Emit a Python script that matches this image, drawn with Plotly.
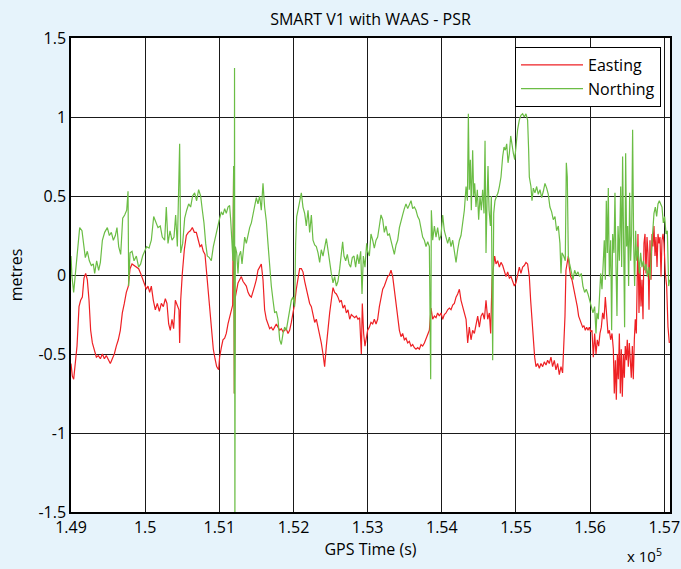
import plotly.graph_objects as go

# ---- Easting (red) ----
easting_t = [149000,149018,149036,149058,149081,149108,149130,149153,149175,149198,149220,149243,149265,149288,149315,149342,149369,149396,149423,149450,149476,149503,149530,149557,149584,149611,149638,149665,149692,149719,149746,149773,149796,149823,149850,149881,149912,149939,149966,149993,150016,150038,150061,150083,150110,150137,150164,150191,150218,150245,150272,150294,150317,150339,150362,150384,150407,150434,150456,150465,150479,150501,150528,150555,150582,150609,150636,150663,150690,150717,150739,150762,150784,150807,150829,150852,150874,150897,150919,150942,150964,150991,
             151004,151027,151049,151072,151094,151117,151139,151162,151180,151193,151202,151216,151234,151252,151274,151297,151319,151342,151364,151387,151409,151432,151454,151476,151499,151521,151544,151566,151589,151611,151634,151656,151679,151701,151724,151746,151769,151791,151814,151836,151859,151881,151903,151926,151948,151971,151993,152016,152038,152061,152083,152106,152128,152151,152173,152196,152218,152241,152263,152286,152308,152331,152353,152375,152398,152420,152443,152465,152488,152510,152533,152555,152578,152600,152623,152645,152668,152690,152713,152735,152758,152780,152803,152825,152847,152870,152892,152915,152928,152946,152964,152987,
             153000,153023,153045,153068,153090,153113,153135,153158,153180,153203,153225,153248,153270,153293,153315,153338,153360,153383,153405,153428,153450,153472,153495,153517,153540,153562,153585,153607,153630,153652,153675,153697,153720,153742,153765,153787,153810,153832,153855,153877,153900,153922,153944,153967,153989,154012,154034,154057,154079,154102,154124,154147,154169,154192,154214,154237,154259,154282,154304,154327,154349,154371,154394,154416,154439,154461,154484,154506,154529,154551,154574,154596,154619,154641,154659,154677,154695,154713,154731,154753,154776,154798,154821,154843,154866,154888,154911,154933,154956,154978,
             155000,155022,155045,155067,155090,155112,155135,155157,155180,155198,155216,155234,155252,155270,155292,155315,155337,155360,155382,155405,155427,155449,155472,155494,155517,155539,155562,155584,155607,155629,155647,155661,155674,155688,155706,155719,155737,155755,155773,155791,155809,155827,155845,155863,155881,155899,155917,155935,155953,155971,155989,156007,156025,156043,156061,156079,156097,156115,156133,156151,156169,156187,156205,156223,156241,156259,156277,156295,156313,156326,156340,156353,156367,156380,156394,156407,156420,156434,156448,156461,156474,156488,156501,156515,156528,156542,156555,156569,156582,156596,156609,156623,156636,156645,156659,156672,156686,156699,156713,156726,156740,156753,156767,156780,156794,156807,156821,156834,156848,156861,156875,156888,156902,156915,156929,156942,156956,156969,156983,156996,157014,157032,157050,157068]
easting_m = [-0.56,-0.64,-0.66,-0.57,-0.45,-0.20,-0.16,-0.14,-0.02,0.01,-0.03,-0.16,-0.35,-0.43,-0.47,-0.52,-0.51,-0.53,-0.50,-0.53,-0.51,-0.54,-0.56,-0.53,-0.50,-0.45,-0.41,-0.35,-0.24,-0.18,-0.11,-0.07,0.04,0.07,0.06,0.05,0.04,0.01,-0.02,-0.06,-0.09,-0.07,-0.11,-0.07,-0.16,-0.22,-0.18,-0.23,-0.18,-0.20,-0.15,-0.18,-0.31,-0.35,-0.28,-0.34,-0.16,-0.20,-0.22,-0.43,-0.16,0.01,0.16,0.25,0.27,0.28,0.30,0.27,0.27,0.22,0.18,0.19,0.15,0.13,0.01,-0.12,-0.26,-0.37,-0.47,-0.53,-0.58,-0.60,
             -0.52,-0.46,-0.41,-0.40,-0.37,-0.31,-0.26,-0.22,-0.19,0.69,-0.75,-0.14,-0.08,-0.05,-0.03,-0.01,-0.04,-0.06,-0.07,-0.11,-0.13,-0.14,-0.11,-0.07,-0.03,0.03,0.05,0.07,-0.03,-0.22,-0.28,-0.31,-0.34,-0.33,-0.35,-0.33,-0.31,-0.33,-0.35,-0.34,-0.36,-0.35,-0.34,-0.37,-0.35,-0.30,-0.24,-0.18,-0.09,-0.01,0.04,0.04,0.02,-0.04,-0.09,-0.14,-0.18,-0.20,-0.26,-0.30,-0.28,-0.33,-0.37,-0.43,-0.50,-0.58,-0.45,-0.33,-0.24,-0.16,-0.08,-0.11,-0.12,-0.14,-0.17,-0.16,-0.21,-0.19,-0.24,-0.22,-0.28,-0.25,-0.26,-0.27,-0.26,-0.28,-0.27,-0.50,-0.18,-0.37,-0.45,-0.37,
             -0.35,-0.33,-0.30,-0.31,-0.28,-0.31,-0.28,-0.20,-0.14,-0.09,-0.07,-0.04,-0.01,0.00,0.03,-0.01,-0.09,-0.20,-0.26,-0.35,-0.39,-0.37,-0.41,-0.40,-0.43,-0.42,-0.45,-0.44,-0.46,-0.47,-0.46,-0.47,-0.44,-0.45,-0.43,-0.40,-0.37,-0.35,-0.21,-0.28,-0.26,-0.27,-0.24,-0.26,-0.24,-0.28,-0.25,-0.24,-0.22,-0.21,-0.22,-0.19,-0.18,-0.14,-0.12,-0.09,-0.16,-0.20,-0.24,-0.28,-0.43,-0.33,-0.41,-0.35,-0.37,-0.31,-0.26,-0.33,-0.26,-0.24,-0.28,-0.16,-0.28,-0.24,-0.37,-0.03,0.07,0.12,0.07,0.09,0.05,0.08,0.06,0.03,-0.01,0.02,-0.02,-0.01,-0.04,-0.07,
             -0.05,0.01,0.05,0.01,0.05,0.06,0.08,0.07,-0.01,-0.16,-0.28,-0.41,-0.52,-0.58,-0.56,-0.59,-0.56,-0.58,-0.55,-0.57,-0.54,-0.56,-0.52,-0.58,-0.54,-0.60,-0.56,-0.63,-0.58,-0.62,-0.45,-0.26,0.03,0.07,0.12,0.05,-0.01,-0.03,-0.07,-0.12,-0.16,-0.20,-0.26,-0.28,-0.31,-0.33,-0.32,-0.35,-0.33,-0.35,-0.33,-0.36,-0.35,-0.52,-0.37,-0.50,-0.41,-0.45,-0.37,-0.33,-0.24,-0.28,-0.14,-0.24,-0.37,-0.35,-0.41,-0.37,-0.47,-0.75,-0.54,-0.79,-0.50,-0.66,-0.37,-0.75,-0.47,-0.77,-0.50,-0.65,-0.45,-0.54,-0.41,-0.58,-0.43,-0.54,-0.65,-0.45,-0.66,-0.41,-0.28,-0.37,-0.07,0.26,-0.24,0.05,-0.20,-0.03,-0.28,0.20,0.26,0.01,0.24,0.14,-0.22,0.22,-0.03,0.26,0.18,0.31,0.12,0.24,0.05,0.26,0.20,0.24,-0.01,0.22,0.26,0.20,0.01,-0.07,-0.33,-0.43]

# ---- Northing (green) ----
northing_t = [149000,149013,149036,149058,149085,149117,149148,149171,149193,149220,149247,149274,149301,149319,149346,149373,149396,149423,149454,149490,149517,149544,149571,149598,149620,149643,149670,149697,149724,149751,149769,149778,149796,149823,149850,149881,149912,149939,149966,149993,150020,150052,150083,150115,150142,150173,150204,150231,150263,150285,150308,150335,150362,150389,150411,150434,150465,150479,150506,150533,150560,150587,150613,150640,150667,150694,150721,150748,150771,150793,150816,150838,150865,150892,150919,150946,150973,151000,
              151027,151049,151072,151094,151117,151139,151153,151171,151184,151193,151202,151205,151210,151216,151234,151252,151265,151288,151306,151324,151342,151364,151387,151409,151432,151454,151476,151499,151521,151544,151566,151589,151611,151634,151656,151679,151701,151724,151746,151769,151791,151814,151836,151859,151881,151903,151926,151948,151971,151993,152016,152029,152043,152061,152083,152106,152128,152151,152173,152196,152218,152241,152263,152286,152308,152331,152353,152375,152398,152420,152443,152465,152488,152510,152533,152555,152578,152600,152623,152645,152663,152681,152704,152726,152749,152771,152793,152816,152838,152861,152883,152906,152924,152942,152964,152987,
              153000,153023,153045,153068,153090,153113,153135,153158,153180,153203,153225,153248,153270,153293,153315,153338,153360,153383,153405,153428,153450,153472,153495,153517,153540,153562,153585,153607,153630,153652,153675,153697,153720,153742,153765,153787,153810,153832,153850,153859,153877,153900,153922,153944,153967,153989,154012,154034,154057,154079,154102,154124,154147,154169,154192,154214,154237,154259,154282,154304,154327,154345,154358,154371,154385,154398,154416,154430,154443,154461,154479,154497,154515,154533,154551,154569,154583,154596,154610,154623,154637,154655,154668,154686,154700,154717,154740,154758,154776,154798,154821,154839,154857,154875,154893,154911,154929,154947,154965,154983,
              155000,155022,155045,155067,155090,155112,155135,155157,155171,155180,155202,155216,155234,155256,155279,155301,155324,155346,155369,155391,155414,155436,155458,155481,155503,155526,155548,155571,155593,155607,155620,155643,155665,155679,155692,155706,155724,155746,155769,155791,155813,155836,155858,155881,155903,155926,155948,155971,155993,156016,156038,156061,156079,156092,156110,156124,156142,156160,156178,156191,156205,156218,156232,156245,156259,156277,156290,156304,156322,156335,156349,156362,156376,156394,156412,156425,156438,156452,156465,156479,156492,156506,156519,156533,156546,156560,156573,156587,156600,156614,156627,156645,156663,156681,156699,156717,156735,156753,156771,156789,156807,156825,156843,156861,156879,156897,156915,156933,156951,156969,156987,157005,157023,157041,157059,157072]
northing_m = [0.12,-0.01,-0.11,0.01,0.16,0.30,0.28,0.18,0.11,0.15,0.09,0.06,0.07,0.01,0.09,0.03,0.08,0.22,0.27,0.30,0.25,0.27,0.22,0.25,0.30,0.18,0.13,0.36,0.38,0.41,0.53,-0.07,0.14,0.15,0.09,0.12,0.05,0.07,0.12,0.15,0.18,0.17,0.22,0.37,0.34,0.30,0.31,0.24,0.22,0.43,0.20,0.28,0.22,0.24,0.38,0.18,0.83,0.14,0.20,0.36,0.41,0.45,0.43,0.50,0.52,0.47,0.54,0.50,0.41,0.33,0.20,0.12,0.11,0.09,0.18,0.24,0.31,0.35,
              0.40,0.38,0.42,0.39,0.43,0.44,0.35,0.22,0.09,0.69,-0.75,1.31,-1.60,0.18,0.14,0.01,0.12,0.15,0.07,0.18,0.24,0.20,0.26,0.30,0.33,0.38,0.43,0.49,0.45,0.50,0.41,0.58,0.43,0.34,0.20,0.03,-0.07,-0.16,-0.24,-0.23,-0.28,-0.41,-0.44,-0.37,-0.33,-0.35,-0.28,-0.22,-0.16,-0.14,-0.20,0.20,0.37,0.41,0.47,0.52,0.43,0.39,0.31,0.41,0.27,0.38,0.22,0.19,0.18,0.14,0.08,0.16,0.12,0.17,0.23,0.16,0.07,0.01,-0.05,-0.01,-0.07,-0.04,0.04,0.14,0.21,0.12,0.09,0.13,0.07,0.05,0.11,0.12,0.05,0.13,0.07,0.15,-0.12,0.12,0.05,0.20,
              0.15,0.12,0.26,0.22,0.17,0.22,0.24,0.31,0.38,0.35,0.27,0.31,0.25,0.26,0.21,0.18,0.13,0.19,0.22,0.30,0.35,0.38,0.42,0.45,0.42,0.44,0.47,0.42,0.43,0.41,0.37,0.35,0.28,0.24,0.22,0.18,0.21,0.18,-0.66,0.41,0.22,0.31,0.24,0.30,0.22,0.25,0.38,0.28,0.24,0.20,0.24,0.18,0.22,0.16,0.08,0.16,0.22,0.25,0.33,0.41,0.56,0.47,1.02,0.54,0.73,0.41,0.79,0.50,0.58,0.43,0.54,0.35,0.50,0.41,0.54,0.39,0.85,0.14,0.47,0.69,0.41,0.31,0.50,-0.54,0.39,0.47,0.50,0.52,0.56,0.62,0.75,0.81,0.79,0.83,0.71,0.77,0.88,0.81,0.77,0.73,
              0.83,0.92,0.98,1.01,1.02,1.00,1.02,0.98,0.79,0.62,0.56,0.47,0.55,0.52,0.56,0.51,0.54,0.49,0.53,0.58,0.55,0.51,0.43,0.40,0.35,0.37,0.28,0.31,0.20,0.01,0.14,0.12,0.09,0.71,0.62,0.12,0.07,0.01,-0.03,0.03,0.00,0.02,-0.01,0.01,-0.07,-0.11,-0.09,-0.12,-0.16,-0.20,-0.24,-0.20,-0.37,-0.24,-0.28,-0.16,0.01,-0.09,0.14,0.22,-0.03,0.47,0.14,0.55,-0.01,0.22,-0.35,0.26,0.14,0.52,0.05,-0.26,0.31,0.09,0.56,0.05,0.75,0.22,-0.33,0.77,0.18,0.31,-0.07,0.52,0.09,0.26,0.92,0.20,-0.07,0.28,0.09,0.18,0.01,0.14,0.05,0.09,0.03,0.07,-0.01,0.05,-0.03,0.14,0.31,0.39,0.43,0.37,0.45,0.47,0.45,0.43,0.33,0.37,0.26,0.28,-0.07,-0.03]

x_tick_vals = [149000, 150000, 151000, 152000, 153000, 154000, 155000, 156000, 157000]
x_tick_text = ["1.49", "1.5", "1.51", "1.52", "1.53", "1.54", "1.55", "1.56", "1.57"]
y_tick_vals = [-1.5, -1, -0.5, 0, 0.5, 1, 1.5]
y_tick_text = ["-1.5", "-1", "-0.5", "0", "0.5", "1", "1.5"]

FONT = "Open Sans"
RED = "#ee2024"
GREEN = "#6bbd45"
BG = "#e6f3fb"

fig = go.Figure()
fig.add_trace(go.Scatter(x=easting_t, y=easting_m, mode="lines", name="Easting",
                         line=dict(color=RED, width=1.2)))
fig.add_trace(go.Scatter(x=northing_t, y=northing_m, mode="lines", name="Northing",
                         line=dict(color=GREEN, width=1.2)))

axis_common = dict(showgrid=True, gridcolor="#1a1a1a", gridwidth=1,
                   showline=True, linecolor="black", linewidth=1.5, mirror=True,
                   ticks="", zeroline=False, automargin=False,
                   tickfont=dict(family=FONT, size=16, color="black"))

fig.update_layout(
    width=681, height=569,
    margin=dict(l=71, r=11, t=38, b=57, autoexpand=False),
    paper_bgcolor=BG,
    plot_bgcolor="white",
    font=dict(family=FONT, size=16, color="black"),
    title=dict(text="SMART V1 with WAAS - PSR", x=0.5, xanchor="center",
               xref="paper", yref="container",
               y=0.966, yanchor="middle", font=dict(family=FONT, size=16, color="black")),
    xaxis=dict(range=[149000, 157077], tickvals=x_tick_vals, ticktext=x_tick_text,
               title=dict(text="GPS Time (s)", font=dict(family=FONT, size=16), standoff=6),
               **axis_common),
    yaxis=dict(range=[-1.5, 1.5], tickvals=y_tick_vals, ticktext=y_tick_text,
               title=dict(text="metres", font=dict(family=FONT, size=16), standoff=12),
               **axis_common),
    legend=dict(x=0.985, xanchor="right", y=0.981, yanchor="top",
                bgcolor="white", bordercolor="black", borderwidth=1,
                font=dict(family=FONT, size=16, color="black"),
                itemwidth=62, tracegroupgap=0),
    showlegend=True,
    annotations=[dict(text="x 10<sup>5</sup>", xref="paper", yref="paper",
                      x=0.99, y=-0.092, xanchor="right", yanchor="middle",
                      showarrow=False, font=dict(family=FONT, size=15, color="black"))],
)

fig.write_html("out.html", config={"displayModeBar": False},
               post_script="document.body.style.margin='0';document.body.style.background='" + BG + "';document.body.style.overflow='hidden';")
